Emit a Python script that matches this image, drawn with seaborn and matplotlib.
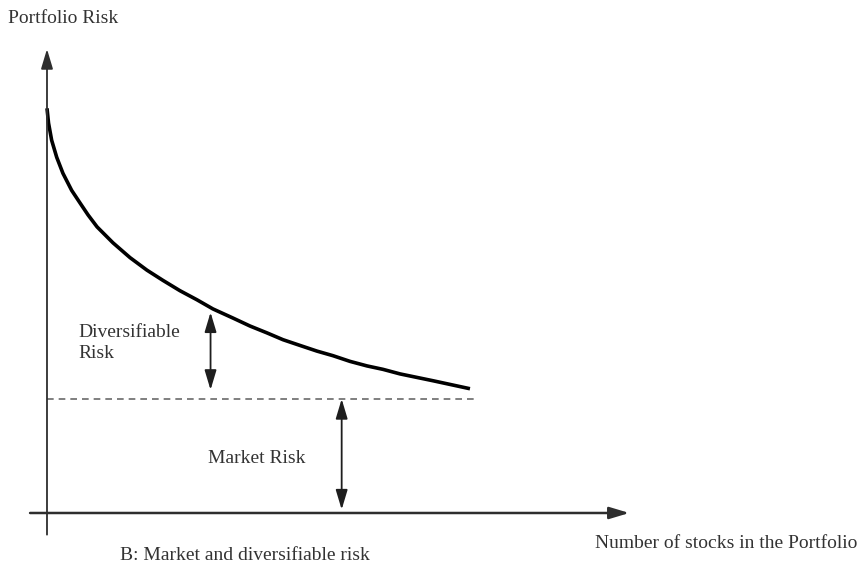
import matplotlib
matplotlib.use("Agg")
import matplotlib.pyplot as plt
import seaborn as sns
import pandas as pd

# number of stocks vs total portfolio risk (schematic units)
stocks = [0, 0.11, 0.33, 0.69, 1.13, 1.75, 2.34, 2.91, 3.55, 4.68, 5.89, 7.09, 8.23,
          9.43, 10.64, 11.77, 13.19, 14.40, 15.60, 16.74, 17.94, 19.15, 20.28,
          21.49, 22.70, 23.83, 25.04, 27.38, 30.0]
risk = [3.55, 3.42, 3.27, 3.12, 2.98, 2.83, 2.72, 2.615, 2.51, 2.37, 2.24, 2.13, 2.04,
        1.95, 1.87, 1.79, 1.71, 1.64, 1.58, 1.52, 1.47, 1.42, 1.38,
        1.33, 1.29, 1.26, 1.22, 1.16, 1.09]
market_risk = 1.0
market_line_end = 30.6
div_arrow_x = 11.6
div_arrow_top = 1.76
div_arrow_bottom = 1.08
mkt_arrow_x = 20.9

y_label = "Portfolio Risk"
x_label = "Number of stocks in the Portfolio"
caption = "B: Market and diversifiable risk"
div_label = "Diversifiable\nRisk"
mkt_label = "Market Risk"

sns.set_theme(style="white")
plt.rcParams["font.family"] = ["Liberation Serif", "DejaVu Serif"]

fig = plt.figure(figsize=(8.57, 5.66), dpi=100)
ax = fig.add_axes([0, 0, 1, 1])
ax.set_xlim(-3.333, 57.45)
ax.set_ylim(-0.465, 4.5)
ax.axis("off")

axis_col = "#2e2e2e"
# axes with arrow heads
ax.annotate("", xy=(0, 4.07), xytext=(0, -0.19),
            arrowprops=dict(arrowstyle="-|>,head_length=1.0,head_width=0.3",
                            color=axis_col, lw=1.3, shrinkA=0, shrinkB=0))
ax.annotate("", xy=(41.3, 0), xytext=(-1.2, 0),
            arrowprops=dict(arrowstyle="-|>,head_length=1.0,head_width=0.3",
                            color=axis_col, lw=1.8, shrinkA=0, shrinkB=0))

df = pd.DataFrame({"stocks": stocks, "risk": risk})
sns.lineplot(data=df, x="stocks", y="risk", ax=ax, color="black", lw=2.6,
             solid_joinstyle="round", solid_capstyle="butt")

ax.plot([0, market_line_end], [market_risk, market_risk], ls=(0, (4, 3)),
        color="#6a6a6a", lw=1.2)

dbl = dict(arrowstyle="<|-|>,head_length=1.0,head_width=0.3", color="#1e1e1e",
           lw=1.3, shrinkA=0, shrinkB=0)
ax.annotate("", xy=(div_arrow_x, div_arrow_top), xytext=(div_arrow_x, div_arrow_bottom),
            arrowprops=dbl)
ax.annotate("", xy=(mkt_arrow_x, market_risk), xytext=(mkt_arrow_x, 0.03),
            arrowprops=dbl)

fs = 14
tc = "#333333"
ax.text(-2.77, 4.34, y_label, fontsize=fs, color=tc, va="center", ha="left")
ax.text(2.2, 1.49, div_label, fontsize=fs, color=tc, va="center", ha="left",
        linespacing=1.3)
ax.text(11.4, 0.48, mkt_label, fontsize=fs, color=tc, va="center", ha="left")
ax.text(5.18, -0.37, caption, fontsize=fs, color=tc, va="center", ha="left")
ax.text(38.87, -0.265, x_label, fontsize=fs, color=tc, va="center", ha="left")

fig.savefig("out.png", dpi=100)
